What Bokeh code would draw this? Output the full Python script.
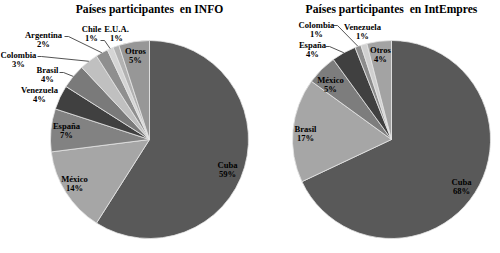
import math
from bokeh.plotting import figure
from bokeh.models import Range1d, ColumnDataSource
from bokeh.core.properties import value
from bokeh.embed import file_html
from bokeh.resources import INLINE

# ---- data ----
info_countries = ["Cuba", "México", "España", "Venezuela", "Brasil", "Colombia",
                  "Argentina", "Chile", "E.U.A.", "Otros"]
info_values = [59, 14, 7, 4, 4, 3, 2, 1, 1, 5]
info_title = "Países participantes\u00a0 en INFO"

emp_countries = ["Cuba", "Brasil", "México", "España", "Colombia", "Venezuela", "Otros"]
emp_values = [68, 17, 5, 4, 1, 1, 4]
emp_title = "Países participantes\u00a0 en IntEmpres"

# ---- styles / layout ----
info_colors = ["#595959", "#a6a6a6", "#828282", "#404040", "#7a7a7a", "#c0c0c0",
               "#8f8f8f", "#d4d4d4", "#b2b2b2", "#979797"]
emp_colors = ["#595959", "#a6a6a6", "#7d7d7d", "#404040", "#8c8c8c", "#d0d0d0", "#a3a3a3"]

W, H = 500, 253
R = 99
FONT = value("Liberation Serif")
LBL_SIZE = "8.6px"
TTL_SIZE = "11.6px"

# label centres (pixel offsets from pie centre, screen y down)
info_label_off = [(78, 30), (-75, 44), (-83, -9), (-110, -45), (-102, -65), (-131, -80),
                  (-106, -100), (-58, -106), (-33, -106), (-14, -84)]
emp_label_off = [(70, 47), (-86, -6), (-61, -55), (-79, -90), (-75, -110), (-29, -108), (-11, -85)]
# leader-line starting points (pixel offsets from pie centre) or None
info_leader = [None, None, None, None, (-90, -67), (-112, -83), (-85, -103), (-49, -99), None, None]
emp_leader = [None, None, None, (-66, -93), (-58, -114), None, None]

p = figure(width=W, height=H, x_range=Range1d(0, W), y_range=Range1d(0, H),
           output_backend="svg", toolbar_location=None, min_border=0)
p.axis.visible = False
p.grid.visible = False
p.outline_line_color = None
p.background_fill_color = "white"


def draw_pie(cx_px, cy_px, names, vals, colors, label_off, leader, title):
    cx, cy = cx_px, H - cy_px
    total = float(sum(vals))
    starts, ends, mids = [], [], []
    cum = 0.0
    for v in vals:
        a0 = math.pi / 2 - 2 * math.pi * cum / total
        cum += v
        a1 = math.pi / 2 - 2 * math.pi * cum / total
        starts.append(a1)
        ends.append(a0)
        mids.append((a0 + a1) / 2)
    src = ColumnDataSource(dict(x=[cx] * len(vals), y=[cy] * len(vals),
                                start=starts, end=ends, color=colors))
    p.wedge(x="x", y="y", radius=R, start_angle="start", end_angle="end",
            fill_color="color", line_color="#e6e6e6", line_width=0.8, source=src)

    # leader lines
    xs, ys = [], []
    for m, ld in zip(mids, leader):
        if ld is None:
            continue
        ex = cx + R * math.cos(m)
        ey = cy + R * math.sin(m)
        sx, sy = cx + ld[0], cy - ld[1]
        xs.append([sx, sx + 4, ex])
        ys.append([sy, sy, ey])
    if xs:
        p.multi_line(xs=xs, ys=ys, line_color="#404040", line_width=0.9)

    # labels
    nx, ny, px_, py_ = [], [], [], []
    pct = []
    for (dx, dy), v in zip(label_off, vals):
        nx.append(cx + dx)
        ny.append(cy - dy + 4.5)
        px_.append(cx + dx)
        py_.append(cy - dy - 4.5)
        pct.append(f"{v}%")
    p.text(x=nx, y=ny, text=names, text_font=FONT, text_font_style="bold",
           text_font_size=LBL_SIZE, text_align="center", text_baseline="middle",
           text_color="#000000")
    p.text(x=px_, y=py_, text=pct, text_font=FONT, text_font_style="bold",
           text_font_size=LBL_SIZE, text_align="center", text_baseline="middle",
           text_color="#000000")
    p.text(x=[cx], y=[H - 9], text=[title], text_font=FONT, text_font_style="bold",
           text_font_size=TTL_SIZE, text_align="center", text_baseline="middle",
           text_color="#000000")


draw_pie(149, 139, info_countries, info_values, info_colors, info_label_off, info_leader, info_title)
draw_pie(391, 139, emp_countries, emp_values, emp_colors, emp_label_off, emp_leader, emp_title)

open("out.html", "w").write(file_html(p, INLINE))
